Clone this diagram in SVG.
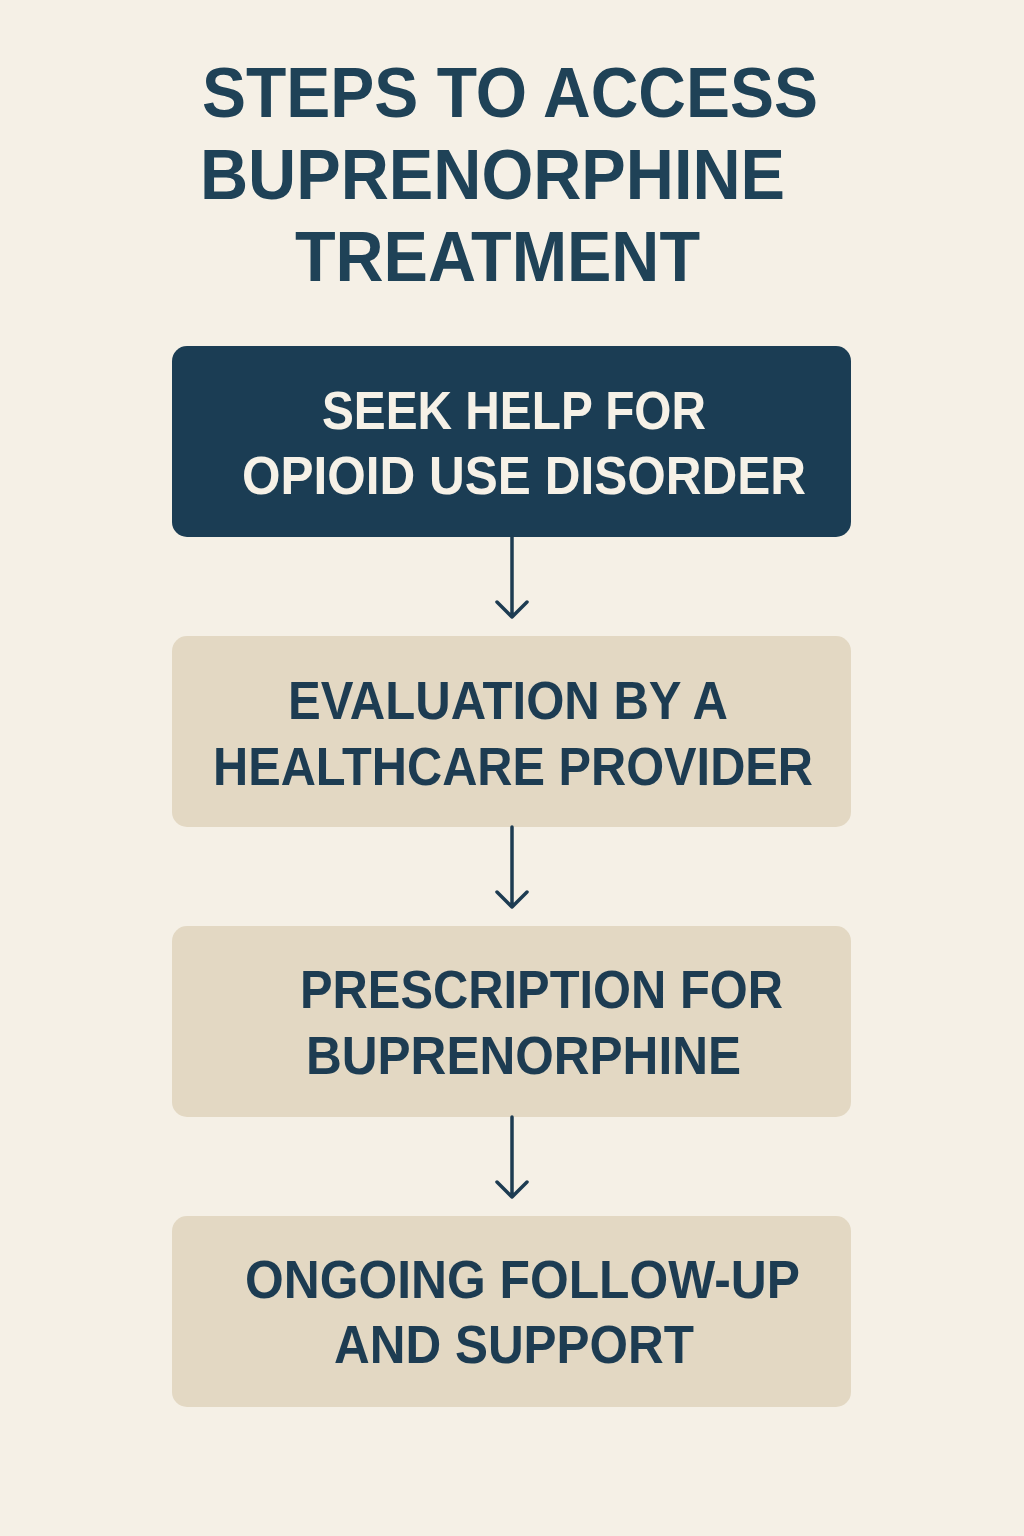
<svg xmlns="http://www.w3.org/2000/svg" width="1024" height="1536" viewBox="0 0 1024 1536">
<style>
.title{font-family:"Liberation Sans","Noto Sans",sans-serif;font-weight:700;font-size:70px;fill:#1f4257}
.lbl{font-family:"Liberation Sans","Noto Sans",sans-serif;font-weight:700;font-size:54px}
.dark{fill:#f6f1e7}
.light{fill:#1d3c52}
.box1{fill:#1b3d54}
.box{fill:#e3d8c3}
.conn{stroke:#1d3c52;stroke-width:3.5;fill:none;stroke-linecap:round;stroke-linejoin:round}
</style>
<rect width="1024" height="1536" fill="#f5f0e6"/>
<g id="title">
<text class="title" x="202" y="117" textLength="616" lengthAdjust="spacingAndGlyphs">STEPS TO ACCESS</text>
<text class="title" x="200" y="199" textLength="585" lengthAdjust="spacingAndGlyphs">BUPRENORPHINE</text>
<text class="title" x="295" y="281" textLength="405" lengthAdjust="spacingAndGlyphs">TREATMENT</text>
</g>
<g id="node1">
<rect class="box1" x="172" y="346" width="679" height="191" rx="15"/>
<text class="lbl dark" x="322" y="429" textLength="384" lengthAdjust="spacingAndGlyphs">SEEK HELP FOR</text>
<text class="lbl dark" x="242" y="494" textLength="564" lengthAdjust="spacingAndGlyphs">OPIOID USE DISORDER</text>
</g>
<g id="node2">
<rect class="box" x="172" y="636" width="679" height="191" rx="15"/>
<text class="lbl light" x="288" y="719" textLength="440" lengthAdjust="spacingAndGlyphs">EVALUATION BY A</text>
<text class="lbl light" x="213" y="785" textLength="600" lengthAdjust="spacingAndGlyphs">HEALTHCARE PROVIDER</text>
</g>
<g id="node3">
<rect class="box" x="172" y="926" width="679" height="191" rx="15"/>
<text class="lbl light" x="300" y="1008" textLength="483" lengthAdjust="spacingAndGlyphs">PRESCRIPTION FOR</text>
<text class="lbl light" x="306" y="1074" textLength="435" lengthAdjust="spacingAndGlyphs">BUPRENORPHINE</text>
</g>
<g id="node4">
<rect class="box" x="172" y="1216" width="679" height="191" rx="15"/>
<text class="lbl light" x="245" y="1298" textLength="555" lengthAdjust="spacingAndGlyphs">ONGOING FOLLOW-UP</text>
<text class="lbl light" x="334" y="1363" textLength="360" lengthAdjust="spacingAndGlyphs">AND SUPPORT</text>
</g>
<g id="connectors">
<path class="conn" d="M512 537 V617 M497 602 L512 617 L527 602"/>
<path class="conn" d="M512 827 V907 M497 892 L512 907 L527 892"/>
<path class="conn" d="M512 1117 V1197 M497 1182 L512 1197 L527 1182"/>
</g>
</svg>
